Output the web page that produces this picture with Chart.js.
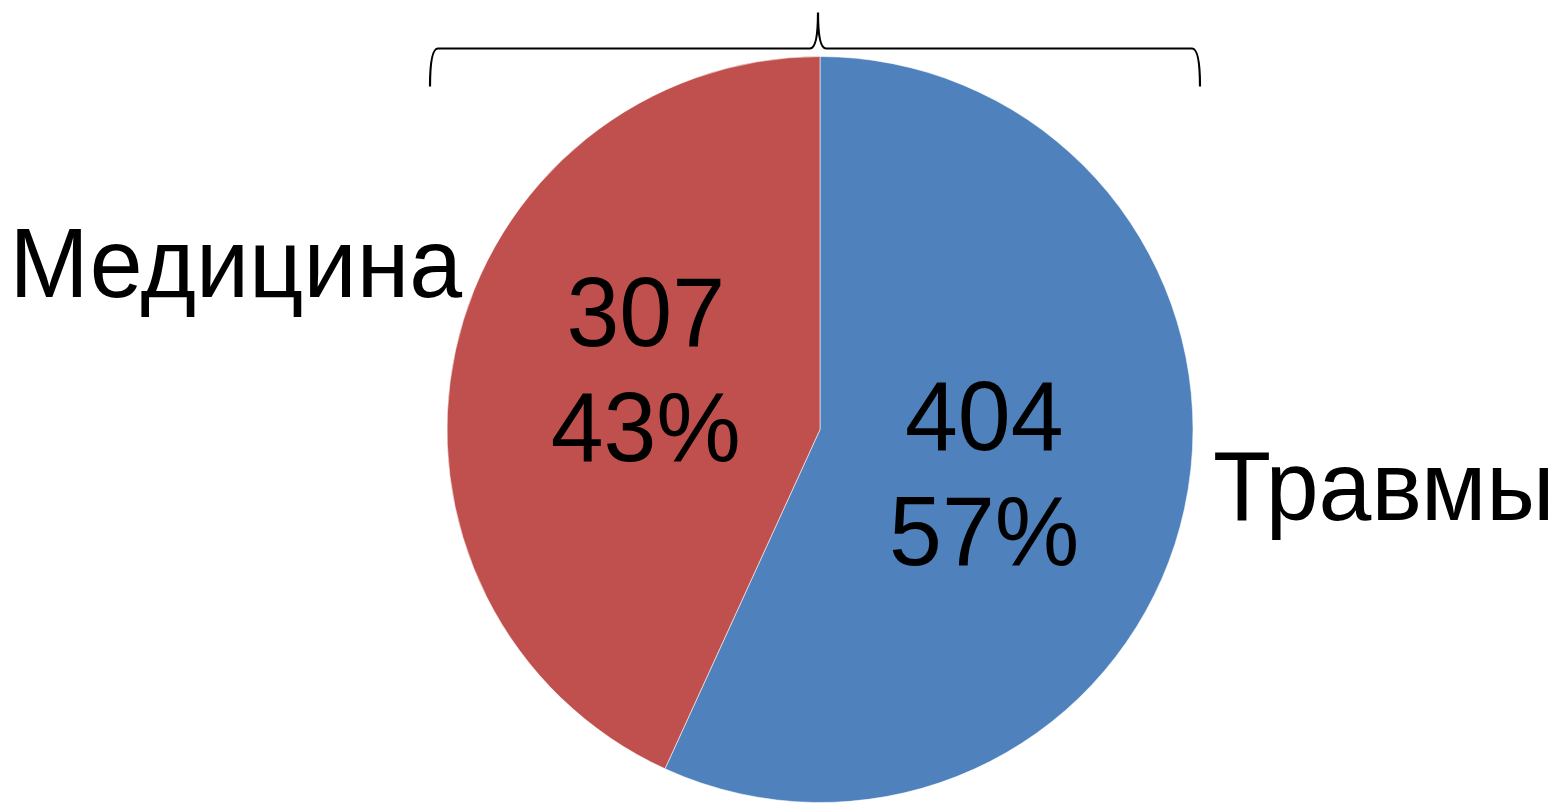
<!DOCTYPE html>
<html>
<head>
<meta charset="utf-8">
<script src="https://cdn.jsdelivr.net/npm/chart.js@4"></script>
<style>
  html, body { margin: 0; padding: 0; background: #fff; }
  #wrap { width: 1561px; height: 803px; }
</style>
</head>
<body>
<div id="wrap"><canvas id="pie"></canvas></div>
<script>
const categories = ['Травмы', 'Медицина'];
const counts = [404, 307];
const colors = ['#4F81BD', '#C0504D'];

const FONT = '98px "Liberation Sans", Arial, sans-serif';
const labelShift = [[-18, 3], [8, -22]]; // nudge inner labels like the original

// slightly condensed text, the original is a bit narrower than Liberation
function drawText(ctx, text, x, y, align) {
  ctx.save();
  ctx.translate(x, y);
  ctx.scale(0.97, 1);
  ctx.textAlign = align;
  ctx.fillText(text, 0, 0);
  ctx.restore();
}

// value + percent inside slices, category names outside, brace on top
const pieLabels = {
  id: 'pieLabels',
  afterDatasetsDraw(chart) {
    const ctx = chart.ctx;
    const meta = chart.getDatasetMeta(0);
    const total = counts.reduce((a, b) => a + b, 0);
    const first = meta.data[0];
    const cx = first.x, cy = first.y, r = first.outerRadius;

    ctx.save();
    ctx.fillStyle = '#000';
    ctx.font = FONT;
    ctx.textBaseline = 'alphabetic';
    meta.data.forEach((arc, i) => {
      const p = arc.tooltipPosition();
      const x = p.x + labelShift[i][0], y = p.y + labelShift[i][1];
      const pct = Math.round(counts[i] / total * 100) + '%';
      drawText(ctx, String(counts[i]), x, y - 22, 'center');
      drawText(ctx, pct, x, y + 93, 'center');
    });

    // category names
    drawText(ctx, categories[1], cx - 358, cy - 133, 'right');
    drawText(ctx, categories[0], cx + 393, cy + 90, 'left');

    // curly brace above the pie
    const left = cx - 390, right = cx + 380, mid = cx - 2;
    const yl = cy - r - 8, yEnd = cy - r + 30, yTip = cy - r - 44;
    ctx.strokeStyle = '#000';
    ctx.lineWidth = 2.2;
    ctx.beginPath();
    ctx.moveTo(left, yEnd);
    ctx.quadraticCurveTo(left, yl, left + 8, yl);
    ctx.lineTo(mid - 8, yl);
    ctx.quadraticCurveTo(mid, yl, mid, yTip);
    ctx.quadraticCurveTo(mid, yl, mid + 8, yl);
    ctx.lineTo(right - 8, yl);
    ctx.quadraticCurveTo(right, yl, right, yEnd);
    ctx.stroke();
    ctx.restore();
  }
};

new Chart(document.getElementById('pie'), {
  type: 'pie',
  data: {
    labels: categories,
    datasets: [{
      data: counts,
      backgroundColor: colors,
      borderColor: 'rgba(255,255,255,0.55)',
      borderWidth: 1
    }]
  },
  options: {
    responsive: true,
    maintainAspectRatio: false,
    animation: false,
    layout: { padding: { top: 56, bottom: 0, left: 79, right: 0 } },
    plugins: {
      legend: { display: false },
      tooltip: { enabled: false }
    }
  },
  plugins: [pieLabels]
});
</script>
</body>
</html>
